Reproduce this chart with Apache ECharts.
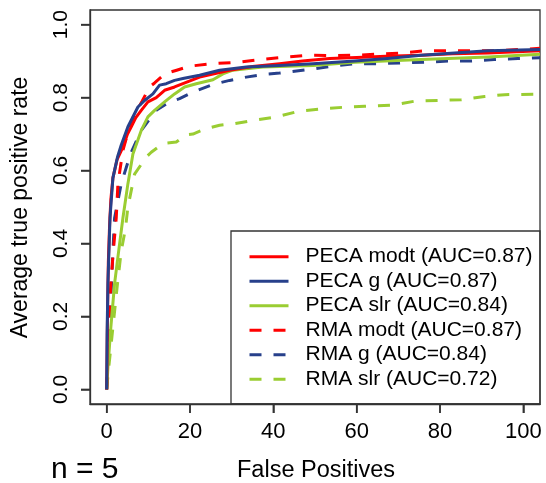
<!DOCTYPE html>
<html>
<head>
<meta charset="utf-8">
<script src="https://cdn.jsdelivr.net/npm/echarts@6/dist/echarts.min.js"></script>
<style>
html,body{margin:0;padding:0;background:#fff;}
#chart{width:546px;height:483px;}
</style>
</head>
<body>
<div id="chart"></div>
<script>
// ---- data ----
const xTicks = [0, 20, 40, 60, 80, 100];
const yTicks = [0, 0.2, 0.4, 0.6, 0.8, 1.0];
const seriesNames = ['PECA modt (AUC=0.87)', 'PECA g (AUC=0.87)', 'PECA slr (AUC=0.84)',
                     'RMA modt (AUC=0.87)', 'RMA g (AUC=0.84)', 'RMA slr (AUC=0.72)'];

const pecaModt = [[0,0],[0.2,0.2],[0.4,0.35],[0.7,0.45],[1,0.52],[1.5,0.58],[2.5,0.63],[3.9,0.664],[5,0.70],[5.9,0.72],[7,0.745],[8.3,0.765],[9.9,0.788],[11.9,0.80],[13.9,0.82],[16.3,0.829],[18.3,0.838],[22.3,0.856],[29.5,0.875],[35,0.885],[41.5,0.893],[47,0.90],[53.5,0.907],[60,0.91],[67,0.913],[75.5,0.916],[83,0.92],[91.5,0.922],[104,0.928]];
const pecaG = [[0,0],[0.1,0.15],[0.3,0.29],[0.8,0.47],[1.5,0.58],[2.6,0.637],[3.5,0.67],[5.1,0.72],[7.5,0.774],[9.1,0.792],[11.1,0.81],[12.7,0.834],[14.3,0.838],[16.3,0.847],[18.3,0.852],[22.3,0.861],[27.1,0.875],[33.5,0.884],[41.5,0.888],[49.5,0.893],[59.5,0.90],[67.4,0.907],[75.5,0.916],[83.5,0.922],[91.5,0.928],[104,0.932]];
const pecaSlr = [[0,0],[0.3,0.06],[1,0.17],[1.9,0.29],[3,0.39],[3.9,0.47],[5.1,0.564],[6.3,0.645],[8.3,0.71],[9.9,0.747],[11.5,0.765],[13.9,0.788],[16.3,0.81],[18.7,0.829],[21.5,0.838],[25.5,0.849],[27.9,0.865],[30.3,0.875],[33.5,0.879],[37.5,0.884],[49.5,0.888],[59.5,0.897],[75.5,0.904],[91.5,0.911],[104,0.919]];
const rmaModt = [[0,0],[0.3,0.1],[0.6,0.2],[1,0.29],[1.6,0.38],[2.3,0.47],[2.7,0.564],[3.9,0.655],[5,0.70],[6.5,0.75],[8.5,0.79],[10.3,0.829],[11.5,0.84],[14,0.865],[16.8,0.875],[19.9,0.886],[25.5,0.893],[31.9,0.897],[36.7,0.904],[43.1,0.911],[48.7,0.916],[54.3,0.915],[60.3,0.916],[65.1,0.919],[70.7,0.922],[76.3,0.928],[87.5,0.928],[93.1,0.928],[99.5,0.932],[104,0.935]];
const rmaG = [[0,0],[0.4,0.1],[0.8,0.2],[1.2,0.3],[1.5,0.38],[1.9,0.47],[3.5,0.564],[5.7,0.645],[8.3,0.71],[11.9,0.765],[15.1,0.788],[17.5,0.797],[20.7,0.815],[25.5,0.836],[29.5,0.847],[33.5,0.856],[38.3,0.864],[41.5,0.867],[47.9,0.876],[54.3,0.886],[59.5,0.893],[65,0.893],[70.7,0.895],[76.3,0.897],[82,0.90],[87.5,0.90],[93,0.904],[98.7,0.907],[104,0.909]];
const rmaSlr = [[0,0],[0.5,0.06],[1.5,0.17],[2.5,0.28],[3.5,0.38],[4.5,0.44],[5.1,0.50],[6.7,0.59],[9.5,0.637],[10.7,0.65],[13.5,0.674],[16.7,0.678],[19.1,0.698],[20.7,0.70],[23.9,0.715],[27.1,0.724],[30.3,0.728],[35.1,0.737],[40.7,0.747],[46.3,0.763],[51.9,0.769],[57.5,0.774],[61.9,0.776],[68.3,0.779],[73.9,0.79],[79.5,0.792],[85.1,0.794],[90.7,0.803],[95.5,0.808],[104,0.809]];

const RED = '#FF0000', BLUE = '#27408B', GREEN = '#9ACD32';
const FONT = '"Liberation Sans", Arial, Helvetica, sans-serif';
const DASH = [12, 12];
const X_MIN = -4, X_MAX = 104, Y_MIN = -0.04, Y_MAX = 1.04;
const AXIS_COLOR = '#333';

function mk(name, data, color, dashed) {
  return {
    name: name, type: 'line', data: data, symbol: 'none', clip: true,
    lineStyle: { color: color, width: 3, type: dashed ? DASH : 'solid', cap: 'butt', join: 'round' },
    itemStyle: { color: color },
    emphasis: { disabled: true }, animation: false
  };
}

const baseGraphic = [
  { id: 'legendBox', type: 'rect', shape: { x: 231, y: 231, width: 309, height: 173 }, style: { fill: 'none', stroke: AXIS_COLOR, lineWidth: 1.3 }, z: 100 },
  { id: 'ytitle', type: 'text', x: 21, y: 207.5, rotation: Math.PI / 2, style: { text: 'Average true positive rate', fill: '#000', font: '23px ' + FONT, align: 'center', verticalAlign: 'middle' } },
  { id: 'xtitle', type: 'text', x: 316, y: 471, style: { text: 'False Positives', fill: '#000', font: '23.5px ' + FONT, align: 'center', verticalAlign: 'middle' } },
  { id: 'ntext', type: 'text', x: 51, y: 470, style: { text: 'n = 5', fill: '#000', font: '30px ' + FONT, align: 'left', verticalAlign: 'middle' } }
];

const chart = echarts.init(document.getElementById('chart'), null, { renderer: 'canvas' });
chart.setOption({
  backgroundColor: '#fff',
  animation: false,
  grid: { left: 90, right: 6, top: 10, bottom: 79, show: true, borderColor: AXIS_COLOR, borderWidth: 1.3, outerBoundsMode: 'none' },
  xAxis: {
    type: 'value', min: X_MIN, max: X_MAX,
    axisLine: { show: true, onZero: false, lineStyle: { color: AXIS_COLOR, width: 1.3 } },
    splitLine: { show: false },
    axisTick: { show: true, length: 9, customValues: xTicks, lineStyle: { color: AXIS_COLOR, width: 1.5 } },
    axisLabel: { show: true, customValues: xTicks, margin: 17, color: '#000', fontSize: 22, fontFamily: FONT, formatter: v => String(v) }
  },
  yAxis: {
    type: 'value', min: Y_MIN, max: Y_MAX,
    axisLine: { show: true, onZero: false, lineStyle: { color: AXIS_COLOR, width: 1.3 } },
    splitLine: { show: false },
    axisTick: { show: true, length: 9, customValues: yTicks, lineStyle: { color: AXIS_COLOR, width: 1.5 } },
    axisLabel: { show: true, customValues: yTicks, rotate: 90, margin: 18, color: '#000', fontSize: 21, fontFamily: FONT, formatter: v => v.toFixed(1) }
  },
  legend: {
    show: true, orient: 'vertical', left: 248, top: 244.7, padding: 0,
    itemWidth: 39, itemHeight: 14, itemGap: 0.5,
    data: seriesNames,
    selectedMode: false,
    lineStyle: { width: 3 },
    itemStyle: { color: 'transparent', borderWidth: 0, opacity: 0 },
    textStyle: { color: '#000', fontSize: 21, fontFamily: FONT, lineHeight: 24, padding: [0, 0, 0, 12] }
  },
  graphic: baseGraphic,
  series: [
    mk(seriesNames[5], rmaSlr, GREEN, true),
    mk(seriesNames[4], rmaG, BLUE, true),
    mk(seriesNames[3], rmaModt, RED, true),
    mk(seriesNames[2], pecaSlr, GREEN, false),
    mk(seriesNames[0], pecaModt, RED, false),
    mk(seriesNames[1], pecaG, BLUE, false)
  ]
});

// tick marks (duplicated via the chart's own scales, to be safe)
const TICK_LEN = 9;
const yBottom = chart.convertToPixel({ yAxisIndex: 0 }, Y_MIN);
const xLeft = chart.convertToPixel({ xAxisIndex: 0 }, X_MIN);
const ticks = [];
xTicks.forEach((v, i) => {
  const px = chart.convertToPixel({ xAxisIndex: 0 }, v);
  ticks.push({ id: 'xt' + i, type: 'line', shape: { x1: px, y1: yBottom, x2: px, y2: yBottom + TICK_LEN }, style: { stroke: AXIS_COLOR, lineWidth: 1.5 }, z: 200 });
});
yTicks.forEach((v, i) => {
  const py = chart.convertToPixel({ yAxisIndex: 0 }, v);
  ticks.push({ id: 'yt' + i, type: 'line', shape: { x1: xLeft - TICK_LEN, y1: py, x2: xLeft, y2: py }, style: { stroke: AXIS_COLOR, lineWidth: 1.5 }, z: 200 });
});
chart.setOption({ graphic: baseGraphic.concat(ticks) });
</script>
</body>
</html>
